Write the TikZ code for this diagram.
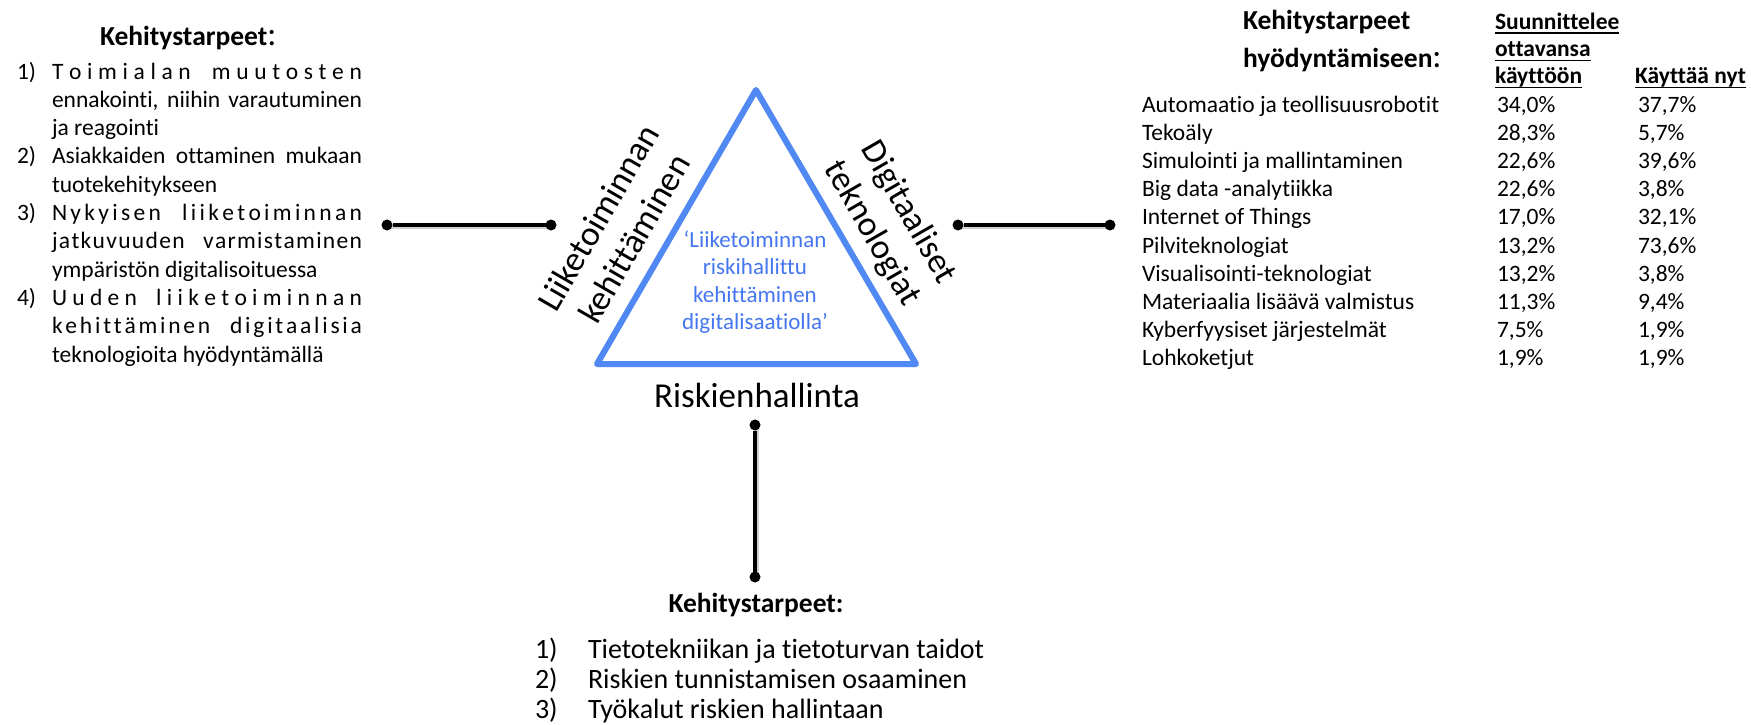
\documentclass[tikz,border=0pt]{standalone}
\usepackage{fontspec}
\setmainfont{Carlito}[Ligatures={NoCommon}]
\usetikzlibrary{calc}
\definecolor{triblue}{RGB}{80,137,244}
\definecolor{txtblue}{RGB}{68,118,240}
\makeatletter
\newcommand\ls[1]{\ls@#1\@nil}
\def\ls@#1#2\@nil{#1\if\relax\detokenize{#2}\relax\else\hfil\ls@#2\@nil\fi}
\makeatother
\newcommand\wg[1]{\hspace{0pt plus #1fil}\ \hspace{0pt plus #1fil}}
\newcommand\myul[1]{\leavevmode\setbox0\hbox{#1}\dp0=0pt\vtop{\box0\kern2.5pt\hrule height 1.6pt}}
\newcommand\bigcolon{{\mdseries\fontsize{34}{34}\selectfont:}}
\begin{document}
\begin{tikzpicture}[x=1pt,y=-1pt,
  every node/.style={inner sep=0pt, outer sep=0pt},
  dot/.style={circle, fill=black, minimum size=11pt, inner sep=0pt},
  conn/.style={line width=3.5pt, black},
  shad/.style={line width=4pt, black, opacity=0.18},
  tri/.style={line width=6pt, triblue, line join=round},
  lst/.style={font=\fontsize{23.5}{28.3}\selectfont, anchor=base west},
  tab/.style={font=\fontsize{23.5}{28.3}\selectfont, anchor=base west},
  hdr/.style={font=\fontsize{23.5}{27}\selectfont\bfseries, anchor=base west},
  ttl/.style={font=\fontsize{27.5}{33}\selectfont\bfseries, anchor=base west},
  side/.style={font=\fontsize{35}{42}\selectfont, align=center},
  blst/.style={font=\fontsize{28}{30}\selectfont, anchor=base west}]
\useasboundingbox (0,0) rectangle (1751,725);

% triangle
\coordinate (A) at (756,90);
\coordinate (B) at (597,364);
\coordinate (C) at (916,364);
\draw[line width=6pt, black, opacity=0.12, line join=round, shift={(1.5pt,-2pt)}] (A) -- (B) -- (C) -- cycle;
\draw[tri] (A) -- (B) -- (C) -- cycle;

\node[font=\fontsize{23}{27.5}\selectfont, text=txtblue, align=center] (core) at (755,282)
  {‘Liiketoiminnan\\riskihallittu\\kehittäminen\\digitalisaatiolla’};

\node[side, rotate=60] (lk) at (616,228) {Liiketoiminnan\\kehittäminen};
\node[side, rotate=-60] (dt) at (890,223) {Digitaaliset\\teknologiat};
\node[font=\fontsize{35}{42}\selectfont, anchor=base] (rh) at (757,407) {Riskienhallinta};

% connectors
\node[dot] (l1) at (387,225) {};
\node[dot] (l2) at (551,225) {};
\node[dot] (r1) at (958,225) {};
\node[dot] (r2) at (1110,225) {};
\node[dot] (v1) at (755,425) {};
\node[dot] (v2) at (755,577) {};
\draw[shad] ([shift={(1.5pt,-2pt)}]l1.center) -- ([shift={(1.5pt,-2pt)}]l2.center);
\draw[shad] ([shift={(1.5pt,-2pt)}]r1.center) -- ([shift={(1.5pt,-2pt)}]r2.center);
\draw[shad] ([shift={(1.5pt,-2pt)}]v1.center) -- ([shift={(1.5pt,-2pt)}]v2.center);
\draw[conn] (l1) -- (l2);
\draw[conn] (r1) -- (r2);
\draw[conn] (v1) -- (v2);

% left block
\node[ttl] (lt) at (100,46) {Kehitystarpeet\bigcolon};
\node[lst] (n1) at (17,79) {1)};
\node[lst] (t1) at (52,79) {\makebox[310pt][s]{\ls{Toimialan}\wg{1.4}\ls{muutosten}}};
\node[lst] (t2) at (52,107.3) {\makebox[310pt][s]{ennakointi, niihin varautuminen}};
\node[lst] (t3) at (52,135.6) {ja reagointi};
\node[lst] (n2) at (17,163.9) {2)};
\node[lst] (t4) at (52,163.9) {\makebox[310pt][s]{Asiakkaiden ottaminen mukaan}};
\node[lst] (t5) at (52,192.2) {tuotekehitykseen};
\node[lst] (n3) at (17,220.5) {3)};
\node[lst] (t6) at (52,220.5) {\makebox[310pt][s]{\ls{Nykyisen}\wg{2.4}\ls{liiketoiminnan}}};
\node[lst] (t7) at (52,248.8) {\makebox[310pt][s]{\ls{jatkuvuuden}\wg{5}\ls{varmistaminen}}};
\node[lst] (t8) at (52,277.1) {ympäristön digitalisoituessa};
\node[lst] (n4) at (17,305.4) {4)};
\node[lst] (t9) at (52,305.4) {\makebox[310pt][s]{\ls{Uuden}\wg{1.3}\ls{liiketoiminnan}}};
\node[lst] (t10) at (52,333.7) {\makebox[310pt][s]{\ls{kehittäminen}\wg{2.6}\ls{digitaalisia}}};
\node[lst] (t11) at (52,362) {teknologioita hyödyntämällä};

% right block
\node[ttl] (rt1) at (1243,30) {Kehitystarpeet};
\node[ttl] (rt2) at (1243,67) {hyödyntämiseen\bigcolon};
\node[hdr] (h1) at (1495,30) {\myul{Suunnittelee}};
\node[hdr] (h2) at (1495,57) {\myul{ottavansa}};
\node[hdr] (h3) at (1495,84) {\myul{käyttöön}};
\node[hdr] (h4) at (1635,84) {\myul{Käyttää nyt}};
\newcommand\trow[4]{%
  \node[tab] (ra#1) at (1142,{112+28.2*(#1-1)}) {#2};
  \node[tab] (rb#1) at (1497,{112+28.2*(#1-1)}) {#3};
  \node[tab] (rc#1) at (1638,{112+28.2*(#1-1)}) {#4};}
\trow{1}{Automaatio ja teollisuusrobotit}{34,0\%}{37,7\%}
\trow{2}{Tekoäly}{28,3\%}{5,7\%}
\trow{3}{Simulointi ja mallintaminen}{22,6\%}{39,6\%}
\trow{4}{Big data -analytiikka}{22,6\%}{3,8\%}
\trow{5}{Internet of Things}{17,0\%}{32,1\%}
\trow{6}{Pilviteknologiat}{13,2\%}{73,6\%}
\trow{7}{Visualisointi-teknologiat}{13,2\%}{3,8\%}
\trow{8}{Materiaalia lisäävä valmistus}{11,3\%}{9,4\%}
\trow{9}{Kyberfyysiset järjestelmät}{7,5\%}{1,9\%}
\trow{10}{Lohkoketjut}{1,9\%}{1,9\%}

% bottom block
\node[font=\fontsize{27.5}{33}\selectfont\bfseries, anchor=base] (bt) at (756,612) {Kehitystarpeet:};
\node[blst] (bn1) at (535,658) {1)};
\node[blst] (bl1) at (588,658) {Tietotekniikan ja tietoturvan taidot};
\node[blst] (bn2) at (535,688) {2)};
\node[blst] (bl2) at (588,688) {Riskien tunnistamisen osaaminen};
\node[blst] (bn3) at (535,718) {3)};
\node[blst] (bl3) at (588,718) {Työkalut riskien hallintaan};
\end{tikzpicture}
\end{document}
